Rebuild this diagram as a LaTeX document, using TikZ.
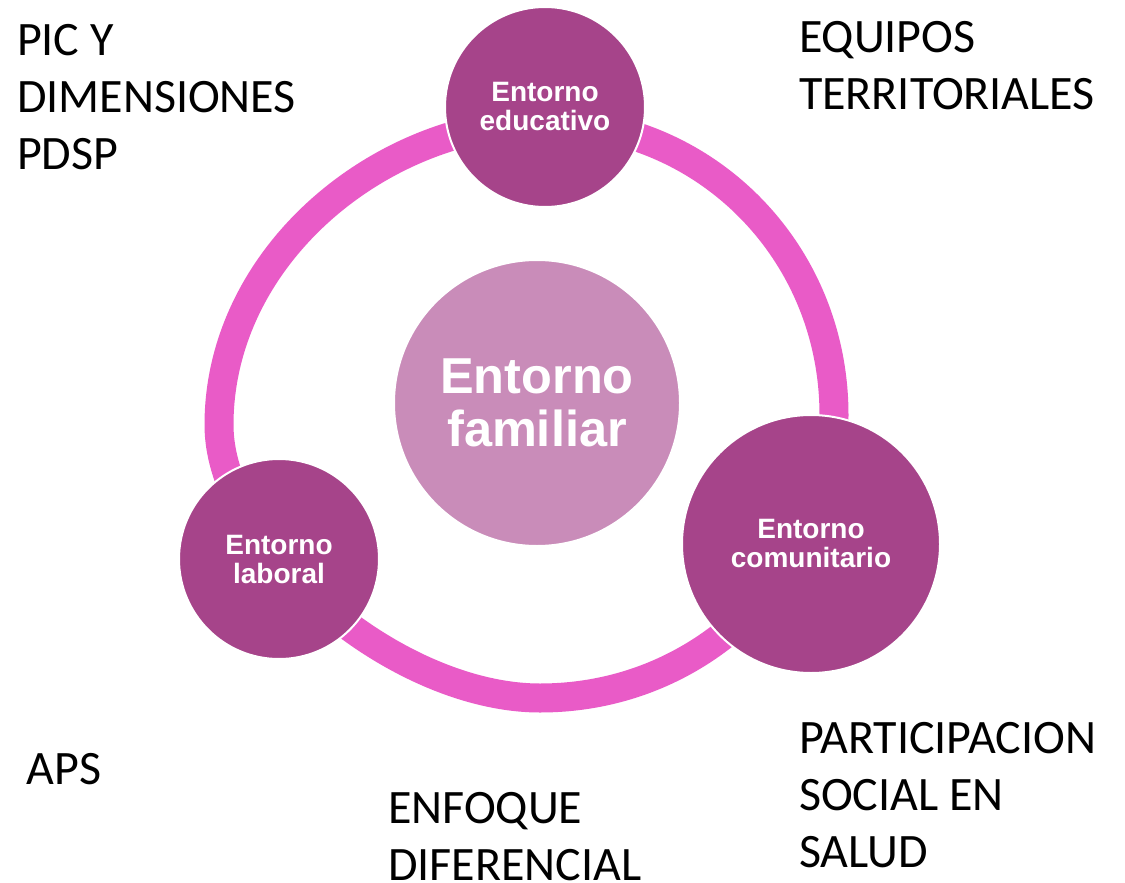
\documentclass[tikz,border=0pt]{standalone}
\usepackage{fontspec}
\setmainfont{Carlito}
\newfontfamily\nodefont{Liberation Sans}
\definecolor{nodepurple}{HTML}{A6448A}
\definecolor{centerpink}{HTML}{C98CB9}
\definecolor{ringpink}{HTML}{E95BC7}
\begin{document}
\begin{tikzpicture}[x=1pt,y=-1pt,
  ent/.style={circle, fill=nodepurple, draw=white, line width=2pt, inner sep=0pt, outer sep=0pt,
    text=white, align=center, font=\nodefont\bfseries\fontsize{28}{29}\selectfont},
  famnode/.style={circle, fill=centerpink, draw=white, line width=2pt, inner sep=0pt, outer sep=0pt,
    text=white, align=center, font=\nodefont\bfseries\fontsize{50.5}{53}\selectfont},
  lbl/.style={anchor=north west, inner sep=0pt, outer sep=0pt, align=left,
    font=\fontsize{48}{57}\selectfont, text=black},
  ringline/.style={draw=ringpink, line width=29pt}]
\fill[white] (0,0) rectangle (1125,883);
\useasboundingbox (0,0) rectangle (1125,883);
% ring
\coordinate (rt) at (545,122);
\coordinate (rr) at (834,415);
\coordinate (rb) at (540,698);
\coordinate (rl) at (219,425);
\draw[ringline] (rt) .. controls (705,122) and (834,251) .. (rr)
  .. controls (834,560) and (710,698) .. (rb)
  .. controls (395.5,698) and (219,548) .. (rl)
  .. controls (219,255) and (382,122) .. (rt) -- cycle;
% nodes
\node[famnode, minimum size=286pt] (fam) at (537,403) {Entorno\\familiar};
\node[ent, minimum size=200pt] (edu) at (545,107) {Entorno\\educativo};
\node[ent, minimum size=258pt] (com) at (811,544) {Entorno\\comunitario};
\node[ent, minimum size=200pt] (lab) at (279,559) {Entorno\\laboral};
% labels
\node[lbl] (pic) at (17,24) {PIC Y\\DIMENSIONES\\PDSP};
\node[lbl] (equ) at (799,21.5) {EQUIPOS\\TERRITORIALES};
\node[lbl] (par) at (799,722.5) {PARTICIPACION\\SOCIAL EN\\SALUD};
\node[lbl] (aps) at (27,753) {APS};
\node[lbl] (enf) at (388,792) {ENFOQUE\\DIFERENCIAL};
\end{tikzpicture}
\end{document}
